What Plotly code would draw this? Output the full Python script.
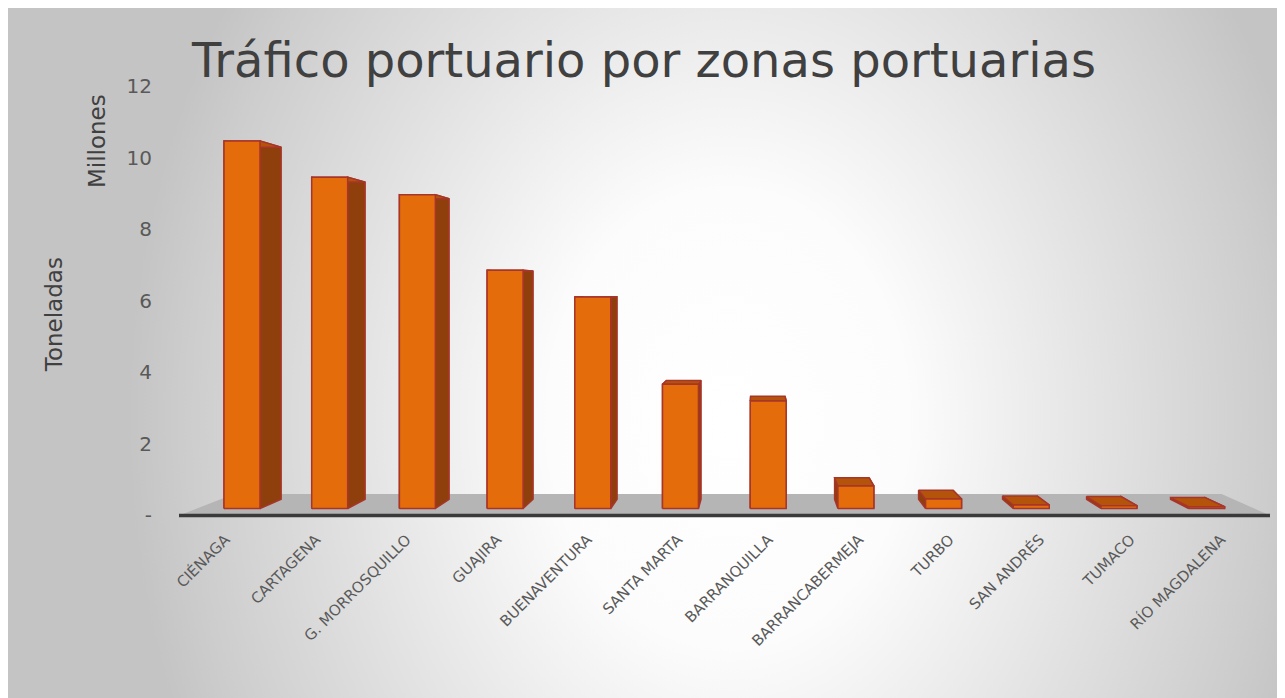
import base64
import plotly.graph_objects as go

# ---------------- data ----------------
categories = ["CIÉNAGA", "CARTAGENA", "G. MORROSQUILLO", "GUAJIRA", "BUENAVENTURA",
              "SANTA MARTA", "BARRANQUILLA", "BARRANCABERMEJA", "TURBO", "SAN ANDRÉS",
              "TUMACO", "RÍO MAGDALENA"]
values_millions = [10.6, 9.55, 9.05, 6.87, 6.1, 3.58, 3.1, 0.65, 0.27, 0.1, 0.08, 0.05]
y_tickvals = [0, 2, 4, 6, 8, 10, 12]
y_ticktext = ["-", "2", "4", "6", "8", "10", "12"]
title_text = "Tráfico portuario por zonas portuarias"

# ---------------- pseudo-3D geometry (data units) ----------------
VX, VY = 5.907, 6.27        # vanishing point
D1, D2 = 0.031, 0.072       # bar front / back depth
DF = 0.095                  # floor depth
HW = 0.205                  # bar half-width
XR = [-0.513, 11.542]
YR = [-0.1, 12.0]


def P(x, y, d):
    return x + d * (VX - x), y + d * (VY - y)


def poly(pts):
    xs = [p[0] for p in pts] + [pts[0][0], None]
    ys = [p[1] for p in pts] + [pts[0][1], None]
    return xs, ys


fig = go.Figure()

# floor
fl = [P(XR[0], 0, 0), P(XR[1], 0, 0), P(XR[1], 0, DF), P(XR[0], 0, DF)]
fx, fy = poly(fl)
fig.add_trace(go.Scatter(x=fx, y=fy, fill="toself", fillcolor="#b5b5b5",
                         line=dict(width=0), mode="lines", hoverinfo="skip",
                         showlegend=False))
fig.add_trace(go.Scatter(x=[XR[0], XR[1]], y=[0, 0], mode="lines",
                         line=dict(color="#3a3a3a", width=3.5), hoverinfo="skip",
                         showlegend=False))

side_x, side_y, top_x, top_y, front_x, front_y = [], [], [], [], [], []
for i, v in enumerate(values_millions):
    l, r = i - HW, i + HW
    xs, ys = poly([P(r, 0, D1), P(r, v, D1), P(r, v, D2), P(r, 0, D2)])
    side_x += xs; side_y += ys
    xs, ys = poly([P(l, 0, D1), P(l, v, D1), P(l, v, D2), P(l, 0, D2)])
    side_x += xs; side_y += ys
    xs, ys = poly([P(l, v, D1), P(r, v, D1), P(r, v, D2), P(l, v, D2)])
    top_x += xs; top_y += ys
    xs, ys = poly([P(l, 0, D1), P(r, 0, D1), P(r, v, D1), P(l, v, D1)])
    front_x += xs; front_y += ys

edge = "#a8352a"
fig.add_trace(go.Scatter(x=side_x, y=side_y, fill="toself", fillcolor="#8f3f0b",
                         line=dict(color=edge, width=1.5), mode="lines",
                         hoverinfo="skip", showlegend=False))
fig.add_trace(go.Scatter(x=top_x, y=top_y, fill="toself", fillcolor="#b4540a",
                         line=dict(color=edge, width=1.5), mode="lines",
                         hoverinfo="skip", showlegend=False))
fig.add_trace(go.Scatter(x=front_x, y=front_y, fill="toself", fillcolor="#e46c0a",
                         line=dict(color=edge, width=1.5), mode="lines",
                         hoverinfo="skip", showlegend=False))

# ---------------- layout ----------------
OFF = 8  # page body margin
W, H = 1285, 698
L = 179 - OFF
T = 86 - OFF
plot_right = 1270 - OFF
R = W - plot_right
plot_w = plot_right - L
plot_bottom = 518.6 - OFF
B = H - plot_bottom
plot_h = plot_bottom - T


def px2paper_x(px):
    return (px - OFF - L) / plot_w


def px2paper_y(py):
    return (plot_bottom - (py - OFF)) / plot_h


svg = ('<svg xmlns="http://www.w3.org/2000/svg" width="1285" height="698" '
       'preserveAspectRatio="none" viewBox="0 0 1285 698">'
       '<defs><radialGradient id="g" gradientUnits="userSpaceOnUse" cx="0" cy="0" r="1" '
       'gradientTransform="translate(720 410) scale(600 760)">'
       '<stop offset="0" stop-color="#ffffff"/>'
       '<stop offset="0.3" stop-color="#fcfcfc"/>'
       '<stop offset="0.9" stop-color="#cdcdcd"/>'
       '<stop offset="1" stop-color="#c4c4c4"/>'
       '</radialGradient></defs>'
       '<rect x="0" y="0" width="1285" height="698" fill="url(#g)"/></svg>')
src = "data:image/svg+xml;base64," + base64.b64encode(svg.encode()).decode()

FONT = "DejaVu Sans, Verdana, sans-serif"

fig.update_layout(
    width=W, height=H,
    margin=dict(l=L, r=R, t=T, b=B, autoexpand=False),
    paper_bgcolor="#ffffff",
    plot_bgcolor="rgba(0,0,0,0)",
    showlegend=False,
    font=dict(family=FONT, color="#595959"),
    title=dict(text=title_text, x=(644 - OFF) / W, xanchor="center",
               y=1 - (60 - OFF) / H, yanchor="middle",
               font=dict(family=FONT, size=48, color="#404040")),
    xaxis=dict(range=XR, tickmode="array", tickvals=list(range(len(categories))),
               ticktext=categories, tickangle=-45, showgrid=False, zeroline=False,
               showline=False, ticks="outside", ticklen=5, tickcolor="rgba(0,0,0,0)",
               tickfont=dict(family=FONT, size=15, color="#5a5a5a"),
               fixedrange=True),
    yaxis=dict(range=YR, tickmode="array", tickvals=y_tickvals, ticktext=y_ticktext,
               showgrid=False, zeroline=False, showline=False, ticks="outside",
               ticklen=22, tickcolor="rgba(0,0,0,0)",
               tickfont=dict(family=FONT, size=20, color="#595959"),
               fixedrange=True),
    images=[dict(source=src, xref="paper", yref="paper",
                 x=-L / plot_w, y=1 + T / plot_h,
                 sizex=W / plot_w, sizey=H / plot_h,
                 xanchor="left", yanchor="top", sizing="stretch", layer="below")],
    annotations=[
        dict(text="Millones", xref="paper", yref="paper",
             x=px2paper_x(97), y=px2paper_y(141), textangle=-90, showarrow=False,
             xanchor="center", yanchor="middle",
             font=dict(family=FONT, size=23, color="#404040")),
        dict(text="Toneladas", xref="paper", yref="paper",
             x=px2paper_x(54), y=px2paper_y(315), textangle=-90, showarrow=False,
             xanchor="center", yanchor="middle",
             font=dict(family=FONT, size=23, color="#404040")),
    ],
)

fig.write_html("out.html")
